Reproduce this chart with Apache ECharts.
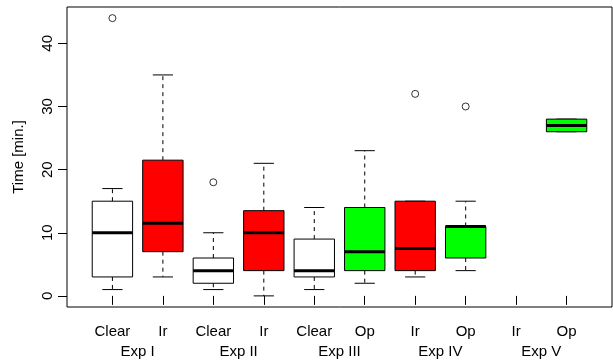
<!DOCTYPE html>
<html>
<head>
<meta charset="utf-8">
<script src="https://cdn.jsdelivr.net/npm/echarts@6/dist/echarts.min.js"></script>
<style>
  html, body { margin: 0; padding: 0; background: #fff; }
  #box { width: 613px; height: 360px; }
</style>
</head>
<body>
<div id="box"></div>
<script>
// categories under each box, and the experiment each pair belongs to
var categories = ['Clear', 'Ir', 'Clear', 'Ir', 'Clear', 'Op', 'Ir', 'Op', 'Ir', 'Op'];
var groups = ['Exp I', 'Exp II', 'Exp III', 'Exp IV', 'Exp V'];
// [lower whisker, Q1, median, Q3, upper whisker] per box, null = no data
var boxStats = [
    [1, 3, 10, 15, 17],
    [3, 7, 11.5, 21.5, 35],
    [1, 2, 4, 6, 10],
    [0, 4, 10, 13.5, 21],
    [1, 3, 4, 9, 14],
    [2, 4, 7, 14, 23],
    [3, 4, 7.5, 15, 15],
    [4, 6, 11, 11, 15],
    null,
    [26, 26, 27, 28, 28]
];
// outliers: [box index (1-based), value]
var outliers = [[1, 44], [3, 18], [7, 32], [8, 30]];
var yTicks = [0, 10, 20, 30, 40];

var fillOf = { Clear: '#ffffff', Ir: '#ff0000', Op: '#00ff00' };
var font = 'Liberation Sans, Arial, Helvetica, sans-serif';

var boxData = [];
boxStats.forEach(function (s, i) {
    if (s) boxData.push([i + 1].concat(s));
});
var tickPos = categories.map(function (c, i) { return i + 1; });
var groupPos = groups.map(function (g, i) { return i * 2 + 1.5; });

var chart = echarts.init(document.getElementById('box'));

function renderBox(params, api) {
    var x = api.value(0);
    var lo = api.value(1), q1 = api.value(2), med = api.value(3), q3 = api.value(4), hi = api.value(5);
    var half = api.size([0.4, 0])[0];
    var cap = api.size([0.2, 0])[0];
    var c = function (v) { return api.coord([x, v]); };
    var pLo = c(lo), pQ1 = c(q1), pMed = c(med), pQ3 = c(q3), pHi = c(hi);
    var cx = pMed[0];
    var fill = fillOf[categories[x - 1]];
    var dash = { stroke: '#000', lineWidth: 1, lineDash: [4, 4] };
    var solid = { stroke: '#000', lineWidth: 1 };
    return {
        type: 'group',
        children: [
            // whiskers first, then caps, box and median on top
            { type: 'line', shape: { x1: cx, y1: pQ3[1], x2: cx, y2: pHi[1] }, style: dash },
            { type: 'line', shape: { x1: cx, y1: pQ1[1], x2: cx, y2: pLo[1] }, style: dash },
            { type: 'line', shape: { x1: cx - cap, y1: pHi[1], x2: cx + cap, y2: pHi[1] }, style: solid },
            { type: 'line', shape: { x1: cx - cap, y1: pLo[1], x2: cx + cap, y2: pLo[1] }, style: solid },
            { type: 'rect', shape: { x: cx - half, y: pQ3[1], width: half * 2, height: pQ1[1] - pQ3[1] },
              style: { fill: fill, stroke: '#000', lineWidth: 1 } },
            { type: 'line', shape: { x1: cx - half, y1: pMed[1], x2: cx + half, y2: pMed[1] },
              style: { stroke: '#000', lineWidth: 3 } }
        ]
    };
}

var option = {
    animation: false,
    grid: {
        left: 67, top: 7, right: 1, bottom: 53,
        show: true, borderColor: '#000', borderWidth: 1, backgroundColor: 'transparent'
    },
    xAxis: [{
        type: 'value',
        min: 0.1, max: 10.9,
        splitLine: { show: false },
        axisLine: { show: false },
        axisTick: { show: true, length: 9, customValues: tickPos, lineStyle: { color: '#000' } },
        axisLabel: {
            customValues: tickPos, margin: 17,
            color: '#000', fontSize: 15, fontFamily: font,
            formatter: function (v) { return categories[Math.round(v) - 1]; }
        }
    }, {
        type: 'value',
        min: 0.1, max: 10.9,
        position: 'bottom',
        splitLine: { show: false },
        axisLine: { show: false },
        axisTick: { show: false },
        axisLabel: {
            customValues: groupPos, margin: 37,
            color: '#000', fontSize: 15, fontFamily: font,
            formatter: function (v) { return groups[Math.round((v - 1.5) / 2)]; }
        }
    }],
    yAxis: {
        type: 'value',
        min: -1.76, max: 45.76,
        name: 'Time [min.]',
        nameLocation: 'middle',
        nameGap: 41,
        nameTextStyle: { color: '#000', fontSize: 15, fontFamily: font },
        splitLine: { show: false },
        axisLine: { show: false },
        axisTick: { show: true, length: 9, customValues: yTicks, lineStyle: { color: '#000' } },
        axisLabel: {
            customValues: yTicks, rotate: 90, margin: 12,
            color: '#000', fontSize: 15, fontFamily: font
        }
    },
    series: [{
        type: 'custom',
        renderItem: renderBox,
        encode: { x: 0, y: [1, 2, 3, 4, 5] },
        data: boxData,
        clip: false
    }, {
        type: 'scatter',
        data: outliers,
        symbol: 'circle',
        symbolSize: 7,
        itemStyle: { color: 'rgba(0,0,0,0)', borderColor: '#000', borderWidth: 1 },
        silent: true
    }]
};
chart.setOption(option);
</script>
</body>
</html>
